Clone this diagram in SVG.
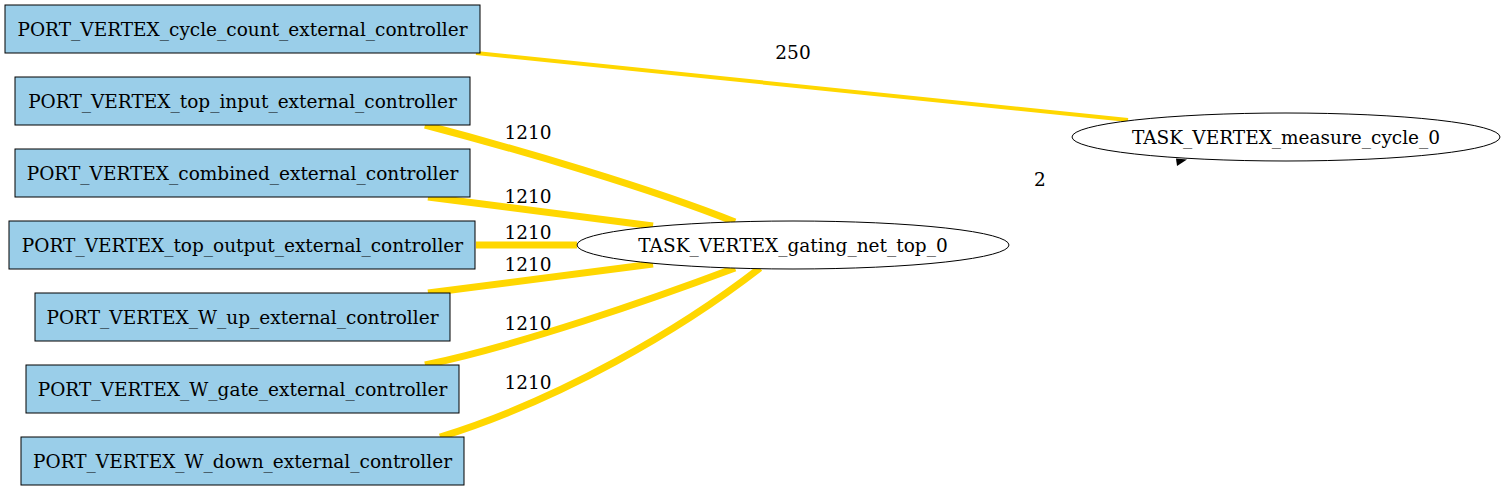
<svg xmlns="http://www.w3.org/2000/svg" width="1507" height="491" viewBox="0 0 1507 491">
<style>
.box{fill:#9acee9;stroke:#000;stroke-width:1}
.ell{fill:#fff;stroke:#000;stroke-width:1}
text{font-family:"DejaVu Serif",serif;font-size:18.5px;fill:#000;text-anchor:middle}
.e{fill:none;stroke:#ffd700;stroke-width:7}
.e4{fill:none;stroke:#ffd700;stroke-width:4}
</style>
<rect width="1507" height="491" fill="#fff"/>
<g id="connectors">
<path class="e4" d="M476,53 L1128,120"/>
<path class="e" d="M425,125 C520,150 650,188 735,222"/>
<path class="e" d="M428,197 L653,226"/>
<path class="e" d="M476,245 L577,245"/>
<path class="e" d="M428,293 L653,264"/>
<path class="e" d="M425,365 C520,345 650,300 735,268"/>
<path class="e" d="M440,437 C560,400 680,330 760,268"/>
<polygon points="1176,158.5 1187,159.5 1177,166" fill="#000"/>
<text x="793" y="59">250</text>
<text x="528" y="139">1210</text>
<text x="528" y="203">1210</text>
<text x="528" y="239">1210</text>
<text x="528" y="271">1210</text>
<text x="528" y="330">1210</text>
<text x="528" y="389">1210</text>
<text x="1040" y="186">2</text>
</g>
<g id="n_cycle_count"><rect class="box" x="5" y="5" width="475" height="48"/><text x="242.5" y="35.5">PORT_VERTEX_cycle_count_external_controller</text></g>
<g id="n_top_input"><rect class="box" x="15" y="77" width="455" height="48"/><text x="242.5" y="107.5">PORT_VERTEX_top_input_external_controller</text></g>
<g id="n_combined"><rect class="box" x="15" y="149" width="455" height="48"/><text x="242.5" y="179.5">PORT_VERTEX_combined_external_controller</text></g>
<g id="n_top_output"><rect class="box" x="9" y="221" width="466" height="48"/><text x="242.5" y="251.5">PORT_VERTEX_top_output_external_controller</text></g>
<g id="n_W_up"><rect class="box" x="35" y="293" width="415" height="48"/><text x="242.5" y="323.5">PORT_VERTEX_W_up_external_controller</text></g>
<g id="n_W_gate"><rect class="box" x="26" y="365" width="433" height="48"/><text x="242.5" y="395.5">PORT_VERTEX_W_gate_external_controller</text></g>
<g id="n_W_down"><rect class="box" x="21" y="437" width="443" height="48"/><text x="242.5" y="467.5">PORT_VERTEX_W_down_external_controller</text></g>
<g id="n_gating"><ellipse class="ell" cx="793" cy="245" rx="216" ry="24"/><text x="793" y="251.5">TASK_VERTEX_gating_net_top_0</text></g>
<g id="n_measure"><ellipse class="ell" cx="1286" cy="137" rx="214" ry="24"/><text x="1286" y="143.5">TASK_VERTEX_measure_cycle_0</text></g>
</svg>
